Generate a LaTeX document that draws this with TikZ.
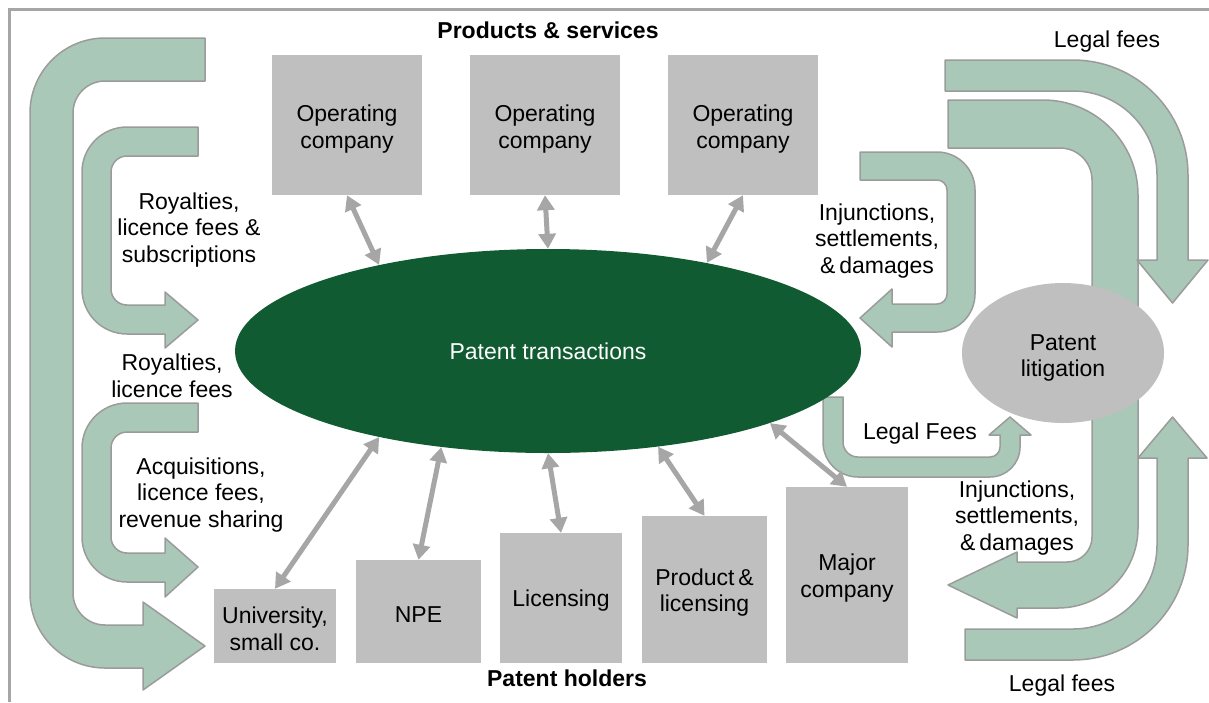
\documentclass[tikz,border=0pt]{standalone}
\usepackage{fontspec}
\setmainfont{Liberation Sans}
\usetikzlibrary{arrows.meta,shapes.geometric}
\definecolor{boxgray}{RGB}{191,191,191}
\definecolor{agray}{RGB}{166,166,166}
\definecolor{lgreen}{RGB}{170,200,184}
\definecolor{dgreen}{RGB}{16,91,49}
\definecolor{outl}{RGB}{155,155,155}
\newcommand\mytxt{\fontsize{23}{26.5}\selectfont}
\tikzset{
  box/.style={fill=boxgray, inner sep=0pt},
  blk/.style={fill=lgreen, draw=outl, line width=1.5pt, line join=round},
  dbl/.style={draw=agray, line width=5pt, arrows={Triangle[length=15pt,width=17pt]-Triangle[length=15pt,width=17pt]}},
  lbl/.style={align=center, font=\mytxt, inner sep=0pt},
  ttl/.style={align=center, font=\mytxt\bfseries, inner sep=0pt},
}
\begin{document}
\begin{tikzpicture}[x=1pt,y=-1pt]
\useasboundingbox (0,0) rectangle (1209,702);
% frame
\draw[agray, line width=3pt] (1209,9) -- (9,9) -- (9,702);

% left outer big arrow
\draw[blk] (205,38) -- (105,38) arc[start angle=270,end angle=180,radius=75]
  -- (30,593) arc[start angle=180,end angle=90,radius=75]
  -- (143,668) -- (143,690) -- (205,646) -- (143,602) -- (143,625)
  -- (105,625) arc[start angle=90,end angle=180,radius=32]
  -- (73,113) arc[start angle=180,end angle=270,radius=32]
  -- (205,81) -- cycle;
% left upper inner arrow
\draw[blk] (198,127) -- (127,127) arc[start angle=270,end angle=180,radius=45]
  -- (82,289) arc[start angle=180,end angle=90,radius=45]
  -- (165,334) -- (165,348) -- (198,320) -- (165,292) -- (165,305)
  -- (127,305) arc[start angle=90,end angle=180,radius=16]
  -- (111,172) arc[start angle=180,end angle=270,radius=16]
  -- (198,156) -- cycle;
% left lower inner arrow
\draw[blk] (198,403) -- (127,403) arc[start angle=270,end angle=180,radius=45]
  -- (82,537) arc[start angle=180,end angle=90,radius=45]
  -- (165,582) -- (165,597) -- (198,567) -- (165,538) -- (165,553)
  -- (127,553) arc[start angle=90,end angle=180,radius=16]
  -- (111,448) arc[start angle=180,end angle=270,radius=16]
  -- (198,432) -- cycle;
% upper right injunctions arrow
\draw[blk] (860,152) -- (937,152) arc[start angle=270,end angle=360,radius=38]
  -- (975,294) arc[start angle=0,end angle=90,radius=38]
  -- (892,332) -- (892,347) -- (860,318) -- (892,289) -- (892,304)
  -- (937,304) arc[start angle=90,end angle=0,radius=10]
  -- (947,190) arc[start angle=0,end angle=-90,radius=10]
  -- (860,180) -- cycle;
% big litigation arrow
\draw[blk] (948,100) -- (1043,100) arc[start angle=270,end angle=360,radius=95]
  -- (1138,528) arc[start angle=0,end angle=90,radius=80]
  -- (1017,608) -- (1017,618) -- (948,585) -- (1017,552) -- (1017,562)
  -- (1067,562) arc[start angle=90,end angle=0,radius=25]
  -- (1092,180) arc[start angle=0,end angle=-90,radius=32]
  -- (948,148) -- cycle;
% top right legal fees arrow
\draw[blk] (945,60) -- (1073,60) arc[start angle=270,end angle=360,radius=115]
  -- (1188,260) -- (1208,260) -- (1172.5,303) -- (1137,260) -- (1157,260)
  -- (1157,175) arc[start angle=0,end angle=-90,radius=84]
  -- (945,91) -- cycle;
% bottom right legal fees arrow
\draw[blk] (965,660) -- (1073,660) arc[start angle=90,end angle=0,radius=115]
  -- (1188,458) -- (1207,458) -- (1172.5,417) -- (1138,458) -- (1157,458)
  -- (1157,545) arc[start angle=0,end angle=90,radius=84]
  -- (965,629) -- cycle;
% middle legal fees arrow
\draw[blk] (823,397) -- (823,442) arc[start angle=180,end angle=90,radius=35]
  -- (990,477) arc[start angle=90,end angle=0,radius=30]
  -- (1020,435) -- (1031,435) -- (1010,417) -- (989,435) -- (1000,435)
  -- (1000,447) arc[start angle=0,end angle=90,radius=10]
  -- (858,457) arc[start angle=90,end angle=180,radius=15]
  -- (843,397) -- cycle;

% ellipses
\node[ellipse, fill=dgreen, minimum width=626pt, minimum height=204pt, inner sep=0pt,
      text=white, font=\mytxt] (pt) at (548,351) {Patent transactions};
\node[ellipse, fill=boxgray, minimum width=202pt, minimum height=140pt, inner sep=0pt] (lit) at (1063,353) {};
\node[lbl] (litt) at ([yshift=-5pt]lit.center) {Patent\\litigation};

% top boxes
\node[box, minimum width=150pt, minimum height=140pt] (op1) at (347,125) {};
\node[box, minimum width=150pt, minimum height=140pt] (op2) at (545,125) {};
\node[box, minimum width=150pt, minimum height=140pt] (op3) at (743,125) {};
\node[lbl] (op1t) at ([yshift=-4pt]op1.center) {Operating\\company};
\node[lbl] (op2t) at ([yshift=-4pt]op2.center) {Operating\\company};
\node[lbl] (op3t) at ([yshift=-4pt]op3.center) {Operating\\company};

% bottom boxes
\node[box, minimum width=122pt, minimum height=74pt] (uni) at (275,626) {};
\node[box, minimum width=125pt, minimum height=103pt] (npe) at (418.5,611.5) {};
\node[box, minimum width=122pt, minimum height=130pt] (lic) at (561,598) {};
\node[box, minimum width=125pt, minimum height=147pt] (prod) at (704.5,589.5) {};
\node[box, minimum width=122pt, minimum height=176pt] (maj) at (847,575) {};
\node[lbl] (unit) at ([yshift=-3pt]uni.center) {University,\\small co.};
\node[lbl] (npet) at ([yshift=-3pt]npe.center) {NPE};
\node[lbl] (lict) at ([yshift=-3pt]lic.center) {Licensing};
\node[lbl] (prodt) at ([yshift=-3pt]prod.center) {Product\,\&\\licensing};
\node[lbl] (majt) at ([yshift=-3pt]maj.center) {Major\\company};

% double arrows
\draw[dbl] (op1.south) -- (pt.153);
\draw[dbl] (op2.south) -- (pt.north);
\draw[dbl] (op3.south) -- (pt.29);
\draw[dbl] (uni.north) -- (pt.207);
\draw[dbl] (npe.north) -- (pt.222);
\draw[dbl] (lic.north) -- (pt.south);
\draw[dbl] (prod.north) -- (pt.319);
\draw[dbl] (maj.north) -- (pt.342);

% labels
\node[ttl] (ps) at (548,30) {Products \& services};
\node[ttl] (ph) at (567,678) {Patent holders};
\node[lbl] (l1) at (189,230) {Royalties,\\licence fees \&\\subscriptions};
\node[lbl] (l2) at (172,376) {Royalties,\\licence fees};
\node[lbl] (l3) at (201,495) {Acquisitions,\\licence fees,\\revenue sharing};
\node[lbl] (l4) at (877,241) {Injunctions,\\settlements,\\\&\,damages};
\node[lbl] (l5) at (1107,42) {Legal fees};
\node[lbl] (l6) at (920,434) {Legal Fees};
\node[lbl] (l7) at (1017,518) {Injunctions,\\settlements,\\\&\,damages};
\node[lbl] (l8) at (1062,686) {Legal fees};
\end{tikzpicture}
\end{document}
